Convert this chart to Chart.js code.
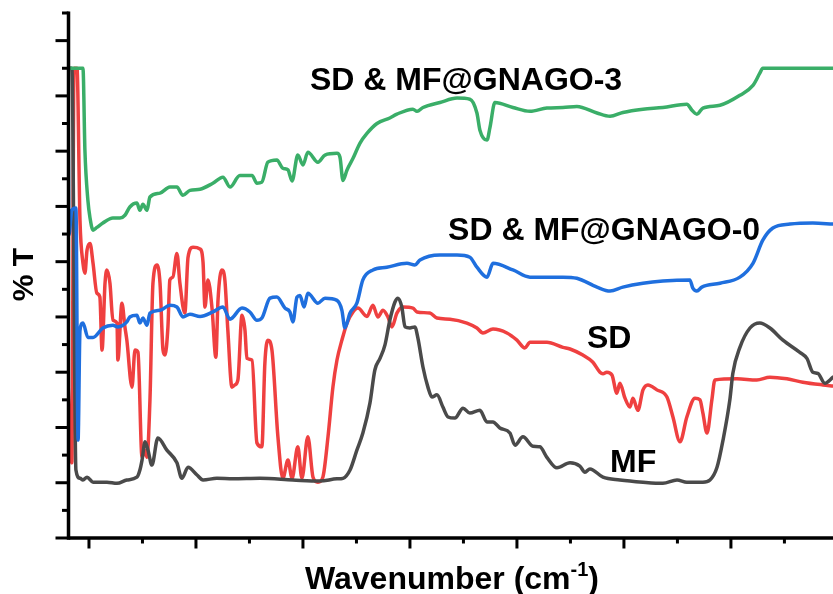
<!DOCTYPE html>
<html>
<head>
<meta charset="utf-8">
<script src="https://cdn.jsdelivr.net/npm/chart.js@4.4.1/dist/chart.umd.min.js"></script>
<style>
html,body{margin:0;padding:0;background:#fff;}
#c{display:block;}
</style>
</head>
<body>
<canvas id="c" width="833" height="594"></canvas>
<script>
// [wavenumber (cm-1), %T]
const seriesNames = ["SD & MF@GNAGO-3", "SD & MF@GNAGO-0", "MF", "SD"];

const gnago3 = [[4098,85.0],[4028,85.0],[4019,70.2],[4005,61.1],[3995,57.9],[3981,55.7],[3963,56.2],[3935,57.0],[3888,57.9],[3855,57.9],[3832,58.4],[3809,59.9],[3776,60.6],[3762,59.3],[3748,60.4],[3729,59.3],[3715,61.7],[3668,62.4],[3622,63.5],[3589,63.5],[3561,62.0],[3528,62.9],[3481,63.1],[3421,64.2],[3374,65.3],[3341,63.5],[3295,65.6],[3238,65.6],[3215,64.2],[3192,64.4],[3164,68.0],[3122,68.4],[3094,66.9],[3070,66.6],[3051,64.6],[3024,69.3],[3000,67.5],[2977,69.8],[2930,68.0],[2897,69.3],[2841,69.6],[2827,68.9],[2813,64.7],[2794,66.6],[2766,68.7],[2734,71.4],[2701,73.2],[2654,75.0],[2594,76.0],[2561,76.7],[2486,77.6],[2467,77.2],[2439,77.9],[2360,78.8],[2280,79.6],[2220,79.4],[2187,76.9],[2173,73.8],[2140,72.0],[2126,74.3],[2103,78.8],[2019,77.9],[1939,77.2],[1860,77.8],[1785,77.9],[1720,78.1],[1626,76.9],[1565,76.3],[1505,77.0],[1411,77.6],[1318,77.9],[1206,78.5],[1182,77.4],[1159,76.7],[1131,77.8],[1051,78.3],[958,80.1],[897,81.9],[865,84.1],[851,85.0],[523,85.0]];

const gnago0 = [[4098,85.0],[4094,54.8],[4080,59.3],[4061,59.7],[4051,17.7],[4042,37.6],[4028,38.9],[4005,36.3],[3981,36.3],[3935,38.0],[3888,38.5],[3865,38.2],[3823,39.1],[3809,40.0],[3776,40.3],[3762,38.9],[3748,39.8],[3729,38.5],[3715,40.7],[3668,41.2],[3622,42.1],[3589,41.8],[3561,40.0],[3528,40.5],[3481,40.1],[3421,40.9],[3374,41.8],[3341,39.6],[3285,41.6],[3248,40.9],[3215,39.4],[3192,39.8],[3154,43.4],[3122,43.6],[3084,41.6],[3061,40.9],[3047,39.1],[3028,43.6],[3014,43.9],[2995,41.8],[2977,44.3],[2930,42.5],[2897,43.4],[2841,43.0],[2818,41.2],[2804,38.0],[2780,40.7],[2748,42.5],[2720,46.7],[2673,48.5],[2608,49.0],[2514,49.7],[2477,49.4],[2453,50.3],[2360,51.2],[2280,51.2],[2220,50.8],[2187,49.0],[2140,47.2],[2112,49.7],[2019,48.5],[1939,47.2],[1860,47.2],[1785,47.2],[1720,47.0],[1626,45.4],[1565,44.7],[1505,45.4],[1411,46.1],[1318,46.5],[1192,46.7],[1178,45.2],[1159,44.7],[1136,45.4],[1051,46.1],[958,47.2],[897,49.7],[851,53.9],[804,56.1],[724,56.8],[617,57.0],[523,56.8]];

const mf = [[4094,85.0],[4080,85.0],[4061,12.3],[4042,10.8],[4028,10.5],[4009,11.0],[3981,10.1],[3916,10.1],[3869,9.9],[3823,10.5],[3776,11.0],[3762,12.3],[3752,14.1],[3738,17.4],[3724,15.9],[3706,13.2],[3678,18.1],[3636,15.9],[3589,13.6],[3566,10.8],[3537,12.8],[3495,11.4],[3467,10.5],[3402,10.8],[3327,10.7],[3201,10.8],[3047,10.5],[2921,10.3],[2841,10.7],[2813,10.8],[2780,12.3],[2748,15.9],[2720,19.0],[2687,24.4],[2664,30.4],[2640,32.5],[2617,34.9],[2594,39.4],[2570,42.7],[2556,43.4],[2538,41.8],[2523,38.2],[2500,38.0],[2477,38.2],[2463,36.2],[2439,30.9],[2416,27.3],[2397,25.5],[2374,25.9],[2346,23.7],[2322,21.9],[2290,21.7],[2252,23.5],[2220,22.6],[2173,23.1],[2140,21.0],[2112,21.0],[2080,19.9],[2033,19.0],[2009,16.8],[1972,18.3],[1925,16.6],[1893,16.5],[1860,14.6],[1813,12.7],[1752,13.6],[1706,13.0],[1682,11.9],[1659,12.5],[1598,11.0],[1519,10.5],[1411,10.1],[1318,9.9],[1252,10.5],[1206,10.1],[1131,10.1],[1098,10.5],[1065,12.8],[1037,17.7],[1005,25.0],[991,29.8],[958,34.5],[911,38.0],[865,38.9],[818,38.0],[757,35.8],[678,33.6],[645,32.5],[617,30.0],[594,29.8],[561,28.0],[523,29.1]];

const sd = [[4098,28.6],[4089,19.0],[4080,13.6],[4070,85.0],[4056,85.0],[4042,57.5],[4028,49.7],[4019,47.9],[4009,52.1],[3995,53.3],[3981,49.7],[3963,44.3],[3949,43.6],[3939,34.0],[3925,46.1],[3916,48.5],[3902,46.1],[3888,39.4],[3869,38.9],[3865,32.2],[3846,42.5],[3832,38.2],[3823,35.8],[3799,27.3],[3785,34.0],[3771,33.6],[3752,14.6],[3738,15.9],[3729,14.6],[3715,25.0],[3701,46.1],[3682,49.4],[3668,46.1],[3654,34.0],[3645,33.1],[3631,38.2],[3622,46.7],[3608,47.2],[3589,51.5],[3575,46.1],[3552,40.7],[3537,50.8],[3514,52.6],[3481,52.3],[3467,49.9],[3458,41.8],[3444,46.7],[3425,41.6],[3407,32.7],[3397,43.0],[3379,48.5],[3365,46.7],[3351,37.6],[3332,27.3],[3318,27.7],[3304,28.6],[3285,40.3],[3271,37.6],[3262,32.5],[3238,32.2],[3215,17.2],[3192,16.5],[3178,31.6],[3164,35.8],[3145,34.0],[3117,18.3],[3094,10.8],[3070,14.1],[3051,10.8],[3024,16.5],[3005,10.8],[2977,18.3],[2953,11.0],[2930,10.1],[2907,11.0],[2883,18.3],[2860,27.3],[2841,32.2],[2818,35.8],[2794,38.9],[2766,40.9],[2743,41.6],[2701,40.1],[2673,42.1],[2650,40.0],[2626,41.2],[2603,40.0],[2584,38.2],[2561,40.7],[2533,41.8],[2486,41.6],[2467,40.9],[2407,40.7],[2374,39.8],[2313,39.6],[2234,38.9],[2187,38.0],[2159,37.1],[2112,37.8],[2047,37.1],[2000,35.8],[1963,34.4],[1939,35.4],[1860,35.4],[1785,34.5],[1752,34.2],[1692,33.1],[1645,31.8],[1612,30.0],[1598,29.7],[1580,30.0],[1556,29.5],[1533,26.2],[1519,28.0],[1495,25.3],[1472,23.7],[1458,25.3],[1435,23.1],[1411,26.8],[1388,27.7],[1346,26.8],[1299,25.5],[1271,21.9],[1238,17.4],[1206,21.9],[1168,25.3],[1145,25.0],[1131,22.6],[1112,19.0],[1089,25.0],[1075,28.6],[972,28.8],[879,28.6],[818,29.1],[738,28.8],[664,28.2],[570,27.7],[523,27.5]];

const seriesColors = ["#3aae68", "#1f6fde", "#4a4a4a", "#ef4040"];
const xMajorTicks = [4000,3500,3000,2500,2000,1500,1000,500];
const xMinorTicks = [3750,3250,2750,2250,1750,1250,750];
const yMajorTicks = [0,10,20,30,40,50,60,70,80,90];
const yMinorTicks = [5,15,25,35,45,55,65,75,85,95];

const curveLabels = [
  {text:"SD & MF@GNAGO-3", x:2967, y:81.0},
  {text:"SD & MF@GNAGO-0", x:2322, y:53.9},
  {text:"SD", x:1673, y:34.4},
  {text:"MF", x:1565, y:11.9}
];

const allSeries = [gnago3, gnago0, mf, sd];

const axesPlugin = {
  id:'axesPlugin',
  afterDraw(chart){
    const {ctx, chartArea:ca, scales:{x,y}} = chart;
    ctx.save();
    ctx.strokeStyle = '#000';
    ctx.lineCap = 'butt';
    const ax = ca.left + 0.5;
    const by = y.getPixelForValue(0);
    ctx.lineWidth = 3.5;
    ctx.beginPath(); ctx.moveTo(ax, y.getPixelForValue(95) - 1.5); ctx.lineTo(ax, by + 1.75); ctx.stroke();
    ctx.beginPath(); ctx.moveTo(ax, by); ctx.lineTo(ca.right + 2, by); ctx.stroke();
    ctx.lineWidth = 3;
    yMajorTicks.forEach(v=>{ const p=y.getPixelForValue(v); ctx.beginPath(); ctx.moveTo(ax-13,p); ctx.lineTo(ax,p); ctx.stroke(); });
    yMinorTicks.forEach(v=>{ const p=y.getPixelForValue(v); ctx.beginPath(); ctx.moveTo(ax-6.5,p); ctx.lineTo(ax,p); ctx.stroke(); });
    xMajorTicks.forEach(v=>{ const p=x.getPixelForValue(v); ctx.beginPath(); ctx.moveTo(p,by); ctx.lineTo(p,by+10.5); ctx.stroke(); });
    xMinorTicks.forEach(v=>{ const p=x.getPixelForValue(v); ctx.beginPath(); ctx.moveTo(p,by); ctx.lineTo(p,by+5.5); ctx.stroke(); });

    ctx.fillStyle = '#000';
    ctx.textBaseline = 'alphabetic';
    ctx.textAlign = 'left';
    ctx.font = 'bold 32px "Liberation Sans", Arial, sans-serif';
    curveLabels.forEach(l=>{ ctx.fillText(l.text, x.getPixelForValue(l.x), y.getPixelForValue(l.y)); });

    ctx.save();
    ctx.translate(33, (ca.top + ca.bottom)/2 - 1);
    ctx.rotate(-Math.PI/2);
    ctx.textAlign = 'center';
    ctx.font = 'bold 30px "Liberation Sans", Arial, sans-serif';
    ctx.fillText('% T', 0, 0);
    ctx.restore();

    const big = 'bold 32px "Liberation Sans", Arial, sans-serif';
    const small = 'bold 20px "Liberation Sans", Arial, sans-serif';
    ctx.font = big;
    const t1 = 'Wavenumber (cm', t3 = ')';
    const w1 = ctx.measureText(t1).width, w3 = ctx.measureText(t3).width;
    ctx.font = small;
    const t2 = '-1';
    const w2 = ctx.measureText(t2).width;
    const total = w1 + w2 + w3;
    const cx = 452;
    let sx = cx - total/2;
    const base = 589;
    ctx.font = big; ctx.fillText(t1, sx, base);
    ctx.font = small; ctx.fillText(t2, sx + w1, base - 13);
    ctx.font = big; ctx.fillText(t3, sx + w1 + w2, base);
    ctx.restore();
  }
};

new Chart(document.getElementById('c'), {
  type:'line',
  data:{
    datasets: allSeries.map((s,i)=>({
      label: seriesNames[i],
      data: s.map(p=>({x:p[0], y:p[1]})),
      borderColor: seriesColors[i],
      borderWidth: 3.5,
      pointRadius: 0,
      cubicInterpolationMode: 'monotone',
      borderJoinStyle:'round',
      borderCapStyle:'round',
      fill:false
    }))
  },
  options:{
    responsive:false,
    animation:false,
    layout:{padding:{left:68, top:13, right:0, bottom:56}},
    plugins:{legend:{display:false}, tooltip:{enabled:false}},
    scales:{
      x:{type:'linear', reverse:true, min:523, max:4098, display:false},
      y:{type:'linear', min:0, max:95, display:false}
    }
  },
  plugins:[axesPlugin]
});
</script>
</body>
</html>
